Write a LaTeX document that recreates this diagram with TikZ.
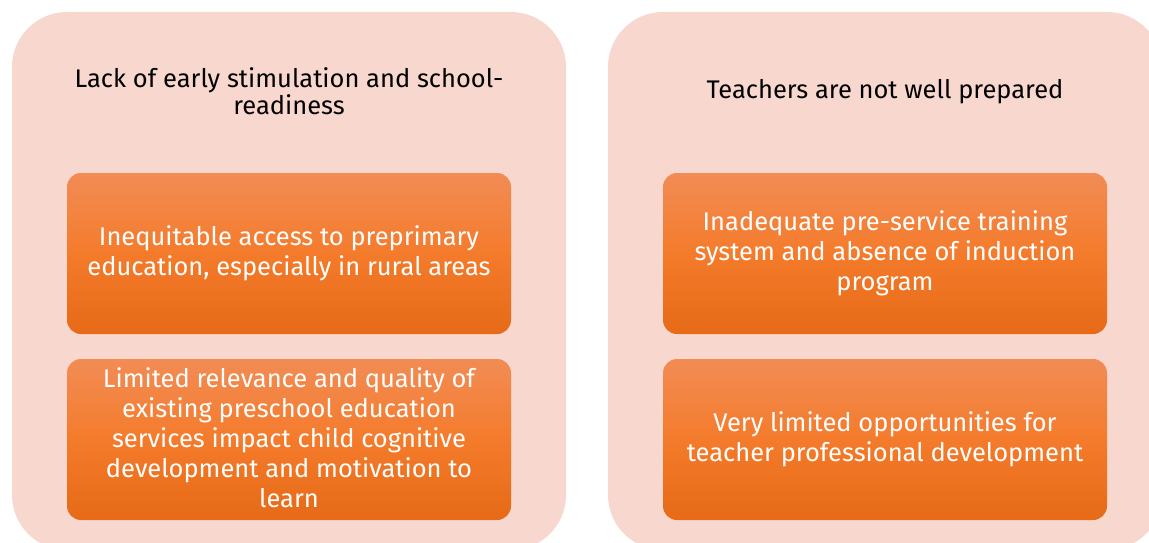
\documentclass[tikz,border=0pt]{standalone}
\usepackage{fontspec}
\setmainfont{Fira Sans}
\definecolor{panelc}{HTML}{F8D8CE}
\definecolor{otop}{HTML}{F28C55}
\definecolor{omid}{HTML}{F47B2B}
\definecolor{obot}{HTML}{E66A17}
\tikzset{
  panel/.style={fill=panelc, rounded corners=55pt},
  obox/.style={rounded corners=14pt, top color=otop, bottom color=obot, middle color=omid, shading angle=0},
  ttext/.style={align=center, text=black, font=\fontsize{25.5}{27}\selectfont},
  btext/.style={align=center, text=white, font=\fontsize{25.5}{30}\selectfont},
}
\begin{document}
\begin{tikzpicture}[x=1pt,y=-1pt]
\useasboundingbox (0,0) rectangle (1149,543);
\clip (0,0) rectangle (1149,543);
\fill[white] (0,0) rectangle (1149,543);
% panels
\path[panel] (12,12) rectangle (566,550);
\path[panel] (608,12) rectangle (1162,550);
% boxes
\path[obox] (67,173) rectangle (511,334);
\path[obox] (67,359) rectangle (511,520);
\path[obox] (663,173) rectangle (1107,334);
\path[obox] (663,359) rectangle (1107,520);
% titles
\node[ttext] (t1) at (289,91) {Lack of early stimulation and school-\\readiness};
\node[ttext] (t2) at (885,92) {Teachers are not well prepared};
% box texts
\node[btext] (b1) at (289,253) {Inequitable access to preprimary\\education, especially in rural areas};
\node[btext] (b2) at (289,438) {Limited relevance and quality of\\existing preschool education\\services impact child cognitive\\development and motivation to\\learn};
\node[btext] (b3) at (885,253) {Inadequate pre-service training\\system and absence of induction\\program};
\node[btext] (b4) at (885,439) {Very limited opportunities for\\teacher professional development};
\end{tikzpicture}
\end{document}
